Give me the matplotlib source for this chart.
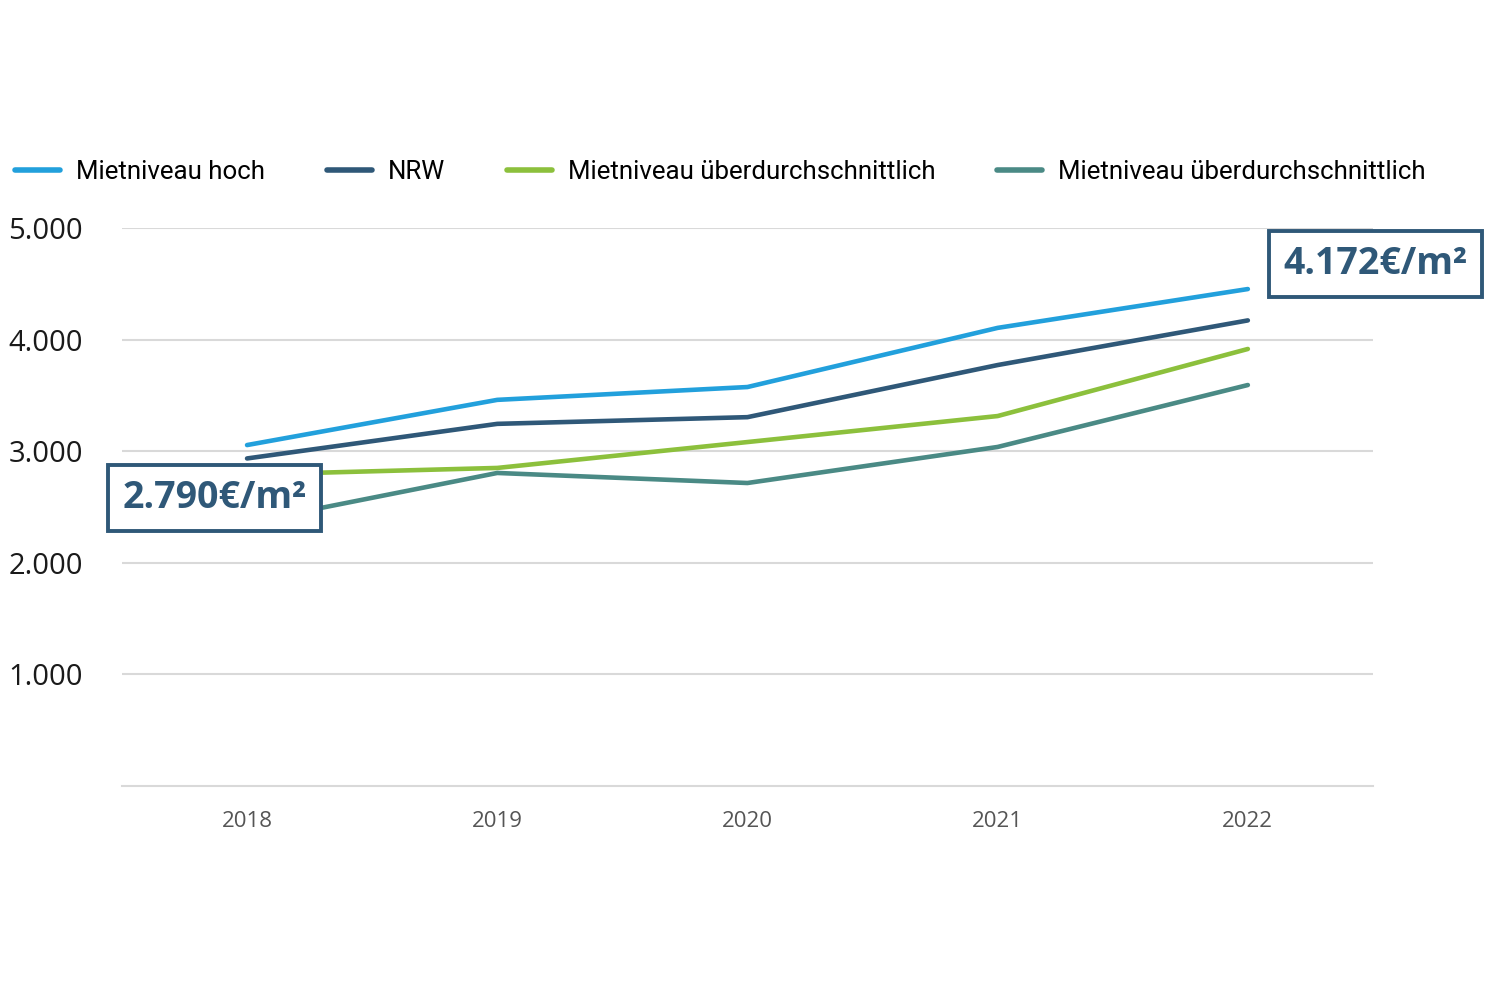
import matplotlib
matplotlib.use("Agg")
import matplotlib.pyplot as plt
from matplotlib import font_manager as fm

years = [2018, 2019, 2020, 2021, 2022]
hoch = [3055, 3460, 3575, 4105, 4453]
nrw = [2935, 3245, 3305, 3772, 4172]
ueber_gruen = [2790, 2850, 3082, 3315, 3916]
ueber_teal = [2360, 2805, 2715, 3038, 3593]

series_names = ["Mietniveau hoch", "NRW", "Mietniveau überdurchschnittlich", "Mietniveau überdurchschnittlich"]
series_vals = [hoch, nrw, ueber_gruen, ueber_teal]
colors = ["#22a0dc", "#2f5878", "#8cc03c", "#4a8a85"]

yticks = [1000, 2000, 3000, 4000, 5000]
ytick_labels = ["1.000", "2.000", "3.000", "4.000", "5.000"]
label_start = "2.790€/m²"
label_end = "4.172€/m²"

avail = {f.name for f in fm.fontManager.ttflist}
narrow = [f for f in ["Roboto", "Open Sans"] if f in avail] or ["DejaVu Sans"]
main = "Open Sans" if "Open Sans" in avail else "DejaVu Sans"
plt.rcParams['font.family'] = [main, 'DejaVu Sans']

fig = plt.figure(figsize=(15, 10), dpi=100)
ax = fig.add_axes([0.0813, 0.214, 0.834, 0.558])

for name, vals, c in zip(series_names, series_vals, colors):
    ax.plot(years, vals, color=c, lw=3.3, solid_capstyle='round', solid_joinstyle='round', label=name, zorder=3)

ax.set_xlim(2017.5, 2022.5)
ax.set_ylim(0, 5000)
ax.set_yticks(yticks)
ax.set_yticklabels(ytick_labels, fontsize=21, color="#1a1a1a")
ax.set_xticks(years)
ax.set_xticklabels([str(y) for y in years], fontsize=16, color="#555555")
ax.tick_params(axis='y', length=0, pad=28)
ax.tick_params(axis='x', length=0, pad=18)
ax.grid(axis='y', color="#d9d9d9", lw=1.5)
ax.set_axisbelow(True)
for s in ['top', 'right', 'left']:
    ax.spines[s].set_visible(False)
ax.spines['bottom'].set_color("#d9d9d9")
ax.spines['bottom'].set_linewidth(1.5)

leg = fig.legend(loc='center left', bbox_to_anchor=(0.005, 0.828), ncol=4, frameon=False,
                 prop=fm.FontProperties(family=narrow, size=18.6), handlelength=1.75,
                 handletextpad=0.6, columnspacing=2.4, borderaxespad=0, borderpad=0.3)
for h in leg.get_lines():
    h.set_linewidth(4)
    h.set_solid_capstyle('round')

box = dict(boxstyle="square,pad=0.38", facecolor="white", edgecolor="#2f5878", linewidth=2.8)
ax.text(2017.87, 2580, label_start, fontsize=27, fontweight='bold', color="#2f5878",
        ha='center', va='center', bbox=box, zorder=5, clip_on=False)
ax.text(2022.51, 4677, label_end, fontsize=27, fontweight='bold', color="#2f5878",
        ha='center', va='center', bbox=box, zorder=5, clip_on=False)

fig.savefig("out.png", dpi=100, facecolor="white")
